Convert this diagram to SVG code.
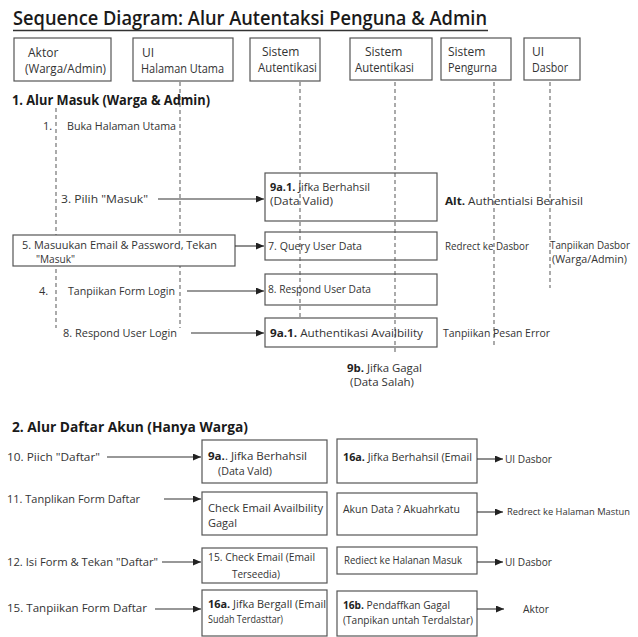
<svg xmlns="http://www.w3.org/2000/svg" width="638" height="637" viewBox="0 0 638 637">
<style>
  .bg{fill:#ffffff}
  .box{fill:none;stroke:#555;stroke-width:1.2}
  .boxw{fill:#ffffff;stroke:#555;stroke-width:1.2}
  .life{stroke:#666;stroke-width:1.1;stroke-dasharray:4 3;fill:none}
  .arr{stroke:#333;stroke-width:1.1;fill:none;marker-end:url(#ah)}
  .t{font-family:"Open Sans","Noto Sans","Liberation Sans",sans-serif;font-size:11px;fill:#333}
  .ts{font-size:10.5px}
  .tx{font-size:9.8px}
  .th{font-family:"Open Sans","Noto Sans","Liberation Sans",sans-serif;font-size:12px;fill:#333}
  .b{font-weight:bold;fill:#222}
  .h{font-family:"Open Sans","Noto Sans","Liberation Sans",sans-serif;font-size:15px;font-weight:bold;fill:#1a1a1a}
  .title{font-family:"Open Sans","Noto Sans","Liberation Sans",sans-serif;font-size:20px;font-weight:600;fill:#1a1a1a}
</style>
<defs>
  <marker id="ah" markerWidth="8" markerHeight="7" refX="8" refY="3.5" orient="auto" markerUnits="userSpaceOnUse">
    <path d="M0,0 L8,3.5 L0,7 z" fill="#222"/>
  </marker>
</defs>
<rect class="bg" x="0" y="0" width="638" height="637"/>

<g id="title">
  <text class="title" x="13" y="25" textLength="474" lengthAdjust="spacingAndGlyphs">Sequence Diagram: Alur Autentaksi Penguna &amp; Admin</text>
  <line x1="13" y1="30.5" x2="488" y2="30.5" stroke="#333" stroke-width="1.5"/>
</g>

<g id="lifelines">
  <line class="life" x1="56" y1="108" x2="56" y2="328"/>
  <line class="life" x1="180" y1="82" x2="180" y2="328"/>
  <line class="life" x1="300" y1="82" x2="300" y2="318"/>
  <line class="life" x1="395" y1="82" x2="395" y2="355"/>
  <line class="life" x1="494" y1="82" x2="494" y2="345"/>
  <line class="life" x1="550" y1="82" x2="550" y2="288"/>
</g>

<g id="head-aktor">
  <rect class="boxw" x="14" y="38" width="97" height="43"/>
  <text class="th" x="28" y="57">Aktor</text>
  <text class="th" x="25" y="73" textLength="81" lengthAdjust="spacingAndGlyphs">(Warga/Admin)</text>
</g>
<g id="head-ui-halaman">
  <rect class="boxw" x="133" y="38" width="100" height="43"/>
  <text class="th" x="142" y="57">UI</text>
  <text class="th" x="141" y="73" textLength="83" lengthAdjust="spacingAndGlyphs">Halaman Utama</text>
</g>
<g id="head-sistem-auth-1">
  <rect class="boxw" x="250" y="38" width="70" height="43"/>
  <text class="th" x="262" y="56">Sistem</text>
  <text class="th" x="258" y="72" textLength="59" lengthAdjust="spacingAndGlyphs">Autentikasi</text>
</g>
<g id="head-sistem-auth-2">
  <rect class="boxw" x="350" y="38" width="82" height="42"/>
  <text class="th" x="365" y="56">Sistem</text>
  <text class="th" x="355" y="72" textLength="59" lengthAdjust="spacingAndGlyphs">Autentikasi</text>
</g>
<g id="head-sistem-pengurna">
  <rect class="boxw" x="441" y="38" width="70" height="42"/>
  <text class="th" x="448" y="56">Sistem</text>
  <text class="th" x="448" y="72" textLength="49" lengthAdjust="spacingAndGlyphs">Pengurna</text>
</g>
<g id="head-ui-dasbor">
  <rect class="boxw" x="524" y="38" width="56" height="42"/>
  <text class="th" x="532" y="56">UI</text>
  <text class="th" x="532" y="72" textLength="36" lengthAdjust="spacingAndGlyphs">Dasbor</text>
</g>

<g id="section-1-heading">
  <text class="h" x="12" y="105" textLength="198" lengthAdjust="spacingAndGlyphs">1. Alur Masuk (Warga &amp; Admin)</text>
</g>

<g id="msg-1">
  <text class="t" x="43" y="130">1.</text>
  <text class="t" x="67" y="130" textLength="109" lengthAdjust="spacingAndGlyphs">Buka Halaman Utama</text>
</g>
<g id="msg-3">
  <text class="t" x="61" y="203" textLength="87" lengthAdjust="spacingAndGlyphs">3. Pilih "Masuk"</text>
</g>
<g id="box-9a1-berhasil">
  <rect class="box" x="265" y="173" width="172" height="48"/>
  <text class="t" x="270" y="191" textLength="100" lengthAdjust="spacingAndGlyphs"><tspan class="b">9a.1.</tspan> Jifka Berhahsil</text>
  <text class="t" x="270" y="205" textLength="63" lengthAdjust="spacingAndGlyphs">(Data Valid)</text>
</g>
<g id="alt-label">
  <text class="t" x="445" y="205" textLength="138" lengthAdjust="spacingAndGlyphs"><tspan class="b">Alt.</tspan> Authentialsi Berahisil</text>
</g>
<g id="box-5-masukkan">
  <rect class="boxw" x="13" y="235" width="222" height="31"/>
  <text class="t" x="22" y="249" textLength="195" lengthAdjust="spacingAndGlyphs">5. Masuukan Email &amp; Password, Tekan</text>
  <text class="t" x="36" y="263" textLength="39" lengthAdjust="spacingAndGlyphs">"Masuk"</text>
</g>
<g id="box-7-query">
  <rect class="box" x="265" y="232" width="172" height="28"/>
  <text class="t" x="268" y="250" textLength="94" lengthAdjust="spacingAndGlyphs">7. Query User Data</text>
</g>
<g id="label-redirect-dasbor">
  <text class="t" x="445" y="250" textLength="84" lengthAdjust="spacingAndGlyphs">Redrect ke Dasbor</text>
</g>
<g id="label-tampilkan-dasbor">
  <text class="t ts" x="550" y="249" textLength="80" lengthAdjust="spacingAndGlyphs">Tanpiikan Dasbor</text>
  <text class="t" x="552" y="263" textLength="75" lengthAdjust="spacingAndGlyphs">(Warga/Admin)</text>
</g>
<g id="msg-4">
  <text class="t" x="39" y="295">4.</text>
  <text class="t" x="68" y="295" textLength="107" lengthAdjust="spacingAndGlyphs">Tanpiikan Form Login</text>
</g>
<g id="box-8-respond-data">
  <rect class="box" x="265" y="274" width="172" height="31"/>
  <text class="t" x="268" y="293" textLength="103" lengthAdjust="spacingAndGlyphs">8. Respond User Data</text>
</g>
<g id="msg-8-login">
  <text class="t" x="63" y="337" textLength="114" lengthAdjust="spacingAndGlyphs">8. Respond User Login</text>
</g>
<g id="box-9a1-auth">
  <rect class="box" x="265" y="318" width="172" height="29"/>
  <text class="t" x="270" y="337" textLength="153" lengthAdjust="spacingAndGlyphs"><tspan class="b">9a.1.</tspan> Authentikasi Availbility</text>
</g>
<g id="label-pesan-error">
  <text class="t" x="443" y="337" textLength="107" lengthAdjust="spacingAndGlyphs">Tanpiikan Pesan Error</text>
</g>
<g id="label-9b">
  <text class="t" x="347" y="372" textLength="75" lengthAdjust="spacingAndGlyphs"><tspan class="b">9b.</tspan> Jifka Gagal</text>
  <text class="t" x="350" y="386" textLength="64" lengthAdjust="spacingAndGlyphs">(Data Salah)</text>
</g>

<g id="section-2-heading">
  <text class="h" x="12" y="432" textLength="236" lengthAdjust="spacingAndGlyphs">2. Alur Daftar Akun (Hanya Warga)</text>
</g>

<g id="msg-10">
  <text class="t" x="7" y="461" textLength="93" lengthAdjust="spacingAndGlyphs">10. Piich "Daftar"</text>
</g>
<g id="box-9a-daftar">
  <rect class="box" x="202" y="440" width="125" height="43"/>
  <text class="t" x="208" y="460" textLength="99" lengthAdjust="spacingAndGlyphs"><tspan class="b">9a.</tspan>.  Jifka Berhahsil</text>
  <text class="t" x="218" y="475" textLength="54" lengthAdjust="spacingAndGlyphs">(Data Vald)</text>
</g>
<g id="box-16a-berhasil">
  <rect class="box" x="337" y="439" width="140" height="44"/>
  <text class="t" x="343" y="461" textLength="129" lengthAdjust="spacingAndGlyphs"><tspan class="b">16a.</tspan> Jifka Berhahsil (Email</text>
</g>
<g id="label-ui-dasbor-1">
  <text class="t" x="505" y="463" textLength="47" lengthAdjust="spacingAndGlyphs">UI Dasbor</text>
</g>
<g id="msg-11">
  <text class="t" x="7" y="503" textLength="133" lengthAdjust="spacingAndGlyphs">11. Tanplikan Form Daftar</text>
</g>
<g id="box-check-email">
  <rect class="box" x="202" y="492" width="125" height="43"/>
  <text class="t" x="208" y="512" textLength="115" lengthAdjust="spacingAndGlyphs">Check Email Availbility</text>
  <text class="t" x="208" y="527">Gagal</text>
</g>
<g id="box-akun-data">
  <rect class="box" x="337" y="493" width="140" height="42"/>
  <text class="t" x="343" y="513" textLength="117" lengthAdjust="spacingAndGlyphs">Akun Data ? Akuahrkatu</text>
</g>
<g id="label-redirect-halaman">
  <text class="t tx" x="507" y="515" textLength="123" lengthAdjust="spacingAndGlyphs">Redrect ke Halaman Mastun</text>
</g>
<g id="msg-12">
  <text class="t" x="7" y="566" textLength="151" lengthAdjust="spacingAndGlyphs">12. Isi Form &amp; Tekan "Daftar"</text>
</g>
<g id="box-15-check">
  <rect class="box" x="202" y="548" width="125" height="35"/>
  <text class="t" x="208" y="561" textLength="107" lengthAdjust="spacingAndGlyphs">15.  Check Email (Email</text>
  <text class="t" x="232" y="578" textLength="48" lengthAdjust="spacingAndGlyphs">Terseedia)</text>
</g>
<g id="box-redirect-masuk">
  <rect class="box" x="337" y="547" width="140" height="27"/>
  <text class="t" x="344" y="564" textLength="118" lengthAdjust="spacingAndGlyphs">Rediect ke Halanan Masuk</text>
</g>
<g id="label-ui-dasbor-2">
  <text class="t" x="505" y="566" textLength="47" lengthAdjust="spacingAndGlyphs">UI Dasbor</text>
</g>
<g id="msg-15">
  <text class="t" x="7" y="612" textLength="140" lengthAdjust="spacingAndGlyphs">15. Tanpiikan Form Daftar</text>
</g>
<g id="box-16a-gagal">
  <rect class="box" x="202" y="590" width="125" height="46"/>
  <text class="t" x="208" y="608" textLength="118" lengthAdjust="spacingAndGlyphs"><tspan class="b">16a.</tspan> Jifka Bergall (Email</text>
  <text class="t" x="208" y="623" textLength="75" lengthAdjust="spacingAndGlyphs">Sudah Terdasttar)</text>
</g>
<g id="box-16b">
  <rect class="box" x="337" y="591" width="140" height="45"/>
  <text class="t" x="343" y="609" textLength="107" lengthAdjust="spacingAndGlyphs"><tspan class="b">16b.</tspan> Pendaffkan Gagal</text>
  <text class="t" x="343" y="624" textLength="130" lengthAdjust="spacingAndGlyphs">(Tanpikan untah Terdalstar)</text>
</g>
<g id="label-aktor">
  <text class="t" x="523" y="613" textLength="26" lengthAdjust="spacingAndGlyphs">Aktor</text>
</g>

<g id="connectors">
  <line class="arr" x1="158" y1="199" x2="264" y2="199"/>
  <line class="arr" x1="235" y1="246" x2="264" y2="246"/>
  <line class="arr" x1="187" y1="291" x2="264" y2="291"/>
  <line class="arr" x1="191" y1="333" x2="264" y2="333"/>
  <line class="arr" x1="107" y1="457" x2="201" y2="457"/>
  <line class="arr" x1="477" y1="459" x2="503" y2="459"/>
  <line class="arr" x1="164" y1="499" x2="201" y2="499"/>
  <line class="arr" x1="477" y1="512" x2="503" y2="512"/>
  <line class="arr" x1="162" y1="562" x2="201" y2="562"/>
  <line class="arr" x1="477" y1="562" x2="503" y2="562"/>
  <line class="arr" x1="155" y1="609" x2="201" y2="609"/>
  <line class="arr" x1="477" y1="609" x2="504" y2="609"/>
</g>
</svg>
